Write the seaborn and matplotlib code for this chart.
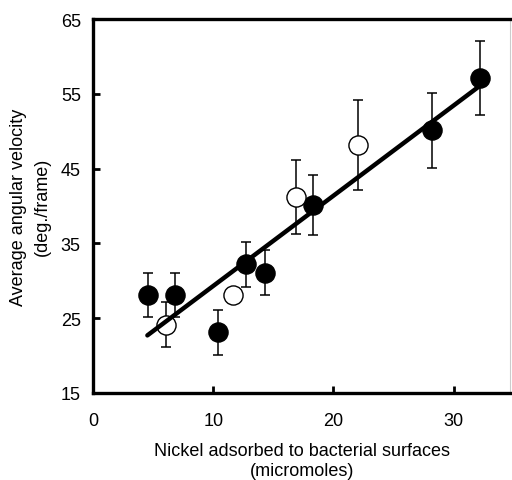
import matplotlib
matplotlib.use("Agg")
import matplotlib.pyplot as plt
import seaborn as sns
import pandas as pd

# filled circles
filled_x = [4.55, 6.77, 10.36, 12.75, 14.3, 18.3, 28.2, 32.2]
filled_y = [28.1, 28.1, 23.1, 32.2, 31.1, 40.1, 50.1, 57.1]
filled_err = [3.0, 3.0, 3.0, 3.0, 3.0, 4.0, 5.0, 5.0]

# open circles
open_x = [6.06, 11.65, 16.9, 22.0]
open_y = [24.1, 28.1, 41.2, 48.2]
open_err = [3.0, 0.0, 5.0, 6.0]

# fitted line endpoints
fit_x = [4.5, 32.3]
fit_y = [22.7, 56.2]

sns.set_theme(style="white")
plt.rcParams["font.family"] = ["Liberation Sans", "DejaVu Sans"]
plt.rcParams["text.color"] = "black"
plt.rcParams["axes.labelcolor"] = "black"

df_filled = pd.DataFrame({"x": filled_x, "y": filled_y, "err": filled_err})
df_open = pd.DataFrame({"x": open_x, "y": open_y, "err": open_err})
df_fit = pd.DataFrame({"x": fit_x, "y": fit_y})

fig = plt.figure(figsize=(5.12, 4.81), dpi=100)
ax = fig.add_axes([0.1823, 0.1809, 0.8138, 0.7775])

# error bars behind markers
for d in (df_filled, df_open):
    ax.errorbar(d["x"], d["y"], yerr=d["err"], fmt="none", ecolor="black",
                elinewidth=1.1, capsize=3.5, capthick=1.1, zorder=1)

sns.scatterplot(data=df_filled, x="x", y="y", ax=ax, s=190, color="black",
                edgecolor="black", linewidth=1, zorder=2)
sns.scatterplot(data=df_open, x="x", y="y", ax=ax, s=190, color="white",
                edgecolor="black", linewidth=1, zorder=2)
sns.lineplot(data=df_fit, x="x", y="y", ax=ax, color="black", linewidth=3.2,
             zorder=3)

ax.set_xlim(0, 34.7)
ax.set_ylim(15, 65)
ax.set_xticks([0, 10, 20, 30])
ax.set_yticks([15, 25, 35, 45, 55, 65])

for side in ("left", "bottom", "top"):
    ax.spines[side].set_linewidth(2.4)
    ax.spines[side].set_color("black")
ax.spines["right"].set_linewidth(0.8)
ax.spines["right"].set_color("#cccccc")

ax.tick_params(axis="both", direction="in", length=5, width=2,
               labelsize=13, colors="black")
ax.tick_params(axis="both", which="both", right=False, top=False)
ax.tick_params(axis="y", left=True, pad=9)
ax.tick_params(axis="x", bottom=True, pad=14)

ax.set_xlabel("Nickel adsorbed to bacterial surfaces\n(micromoles)",
              fontsize=13, labelpad=9, linespacing=1.25)
ax.set_ylabel("Average angular velocity\n(deg./frame)", fontsize=13,
              labelpad=7, linespacing=1.5)

plt.savefig("out.png", dpi=100)
plt.close()
